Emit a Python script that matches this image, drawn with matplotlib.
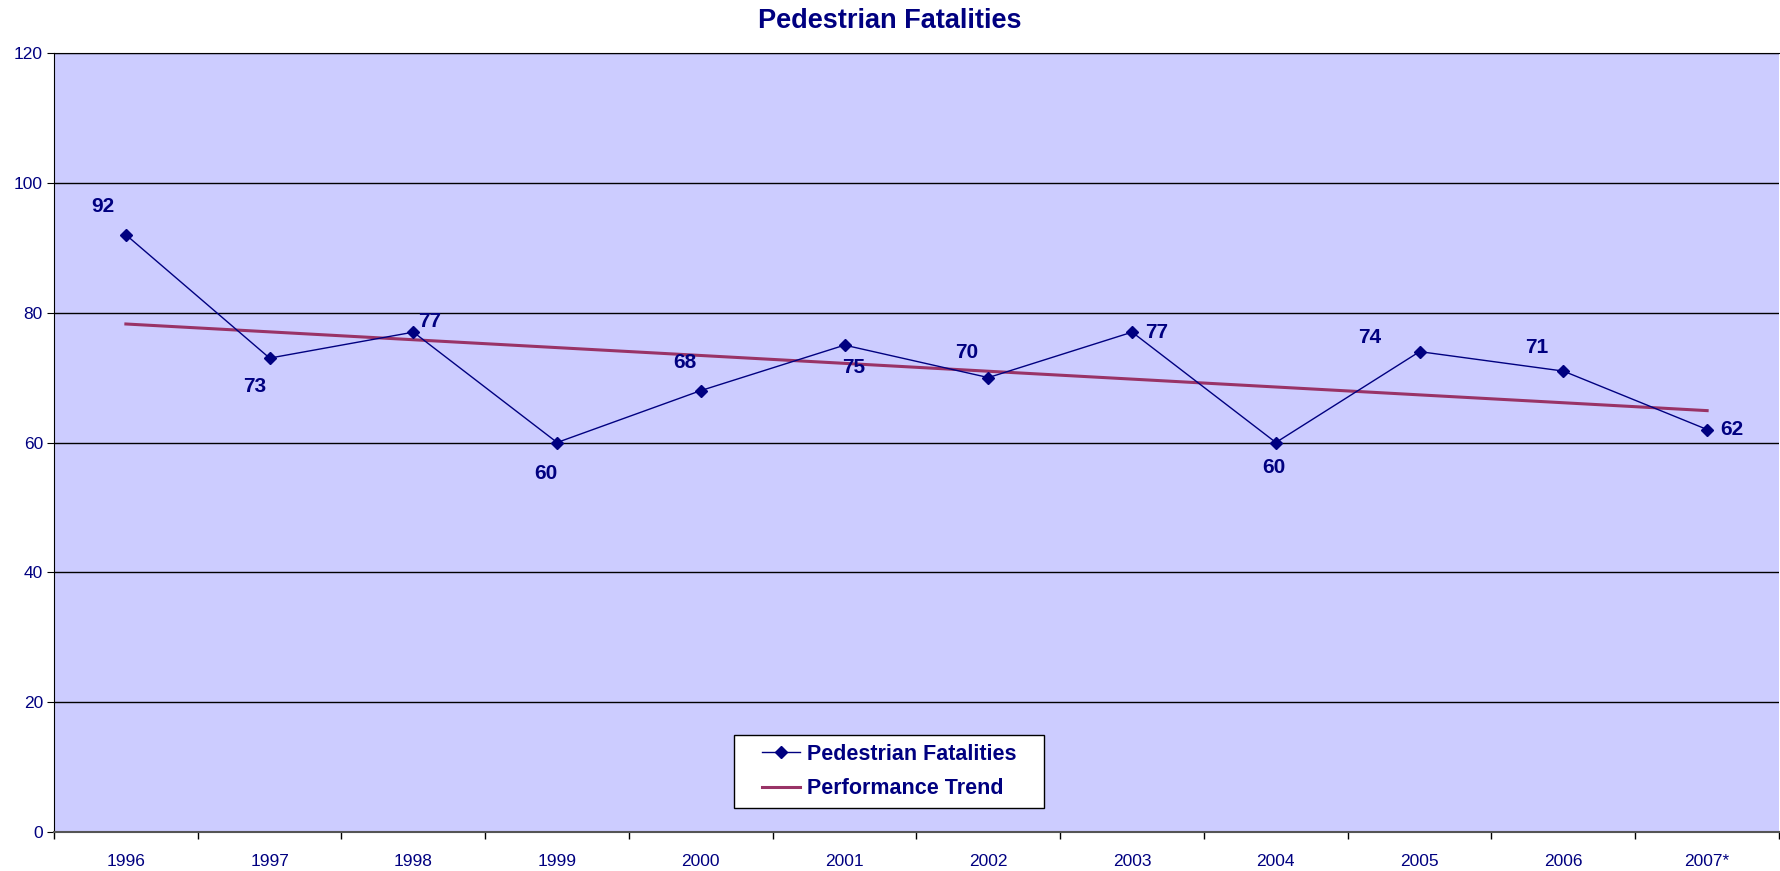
import matplotlib
matplotlib.use("Agg")
import matplotlib.pyplot as plt
from matplotlib.patches import Rectangle
import numpy as np

years = ["1996", "1997", "1998", "1999", "2000", "2001", "2002", "2003",
         "2004", "2005", "2006", "2007*"]
fatalities = [92, 73, 77, 60, 68, 75, 70, 77, 60, 74, 71, 62]
# label offsets in pixels (dx, dy) relative to each point
label_offsets = [(-23, 28), (-15, -28), (16, 11), (-11, -31), (-16, 28), (9, -22),
                 (-22, 25), (25, 0), (-2, -25), (-50, 14), (-27, 24), (25, 0)]

NAVY = "#000080"
TREND = "#993366"

plt.rcParams["font.family"] = ["Liberation Sans", "DejaVu Sans"]

fig = plt.figure(figsize=(17.81, 8.71), dpi=100)
ax = fig.add_axes([54 / 1781, 1 - 832 / 871, 1725 / 1781, 779 / 871])
ax.set_facecolor("#CCCCFF")

x = np.arange(len(years))
# linear performance trend fitted to the series
b1, b0 = np.polyfit(x, fatalities, 1)
ax.plot(x, b1 * x + b0, color=TREND, lw=2.2, label="Performance Trend", zorder=3)
ax.plot(x, fatalities, color=NAVY, lw=1, marker="D", ms=6.5, label="Pedestrian Fatalities", zorder=4)

for xi, yi, (dx, dy) in zip(x, fatalities, label_offsets):
    ax.annotate(str(yi), (xi, yi), xytext=(dx * 0.72, dy * 0.72), textcoords="offset points",
                ha="center", va="center", fontsize=15, fontweight="bold", color=NAVY)

ax.set_xlim(-0.5, len(years) - 0.5)
ax.set_ylim(0, 120)
ax.set_yticks(range(0, 121, 20))
ax.yaxis.grid(True, color="black", lw=1)
ax.set_axisbelow(True)
ax.set_xticks(x)
ax.set_xticklabels(years)
ax.set_xticks(np.arange(-0.5, len(years)), minor=True)
ax.tick_params(axis="x", which="major", length=0, pad=16, labelsize=12.5, labelcolor=NAVY)
ax.tick_params(axis="x", which="minor", length=5, color="black", width=1)
ax.tick_params(axis="y", length=5, labelsize=12.5, labelcolor=NAVY, pad=3)

ax.spines["right"].set_visible(False)
ax.spines["top"].set_color("black")
ax.spines["left"].set_color("black")
ax.spines["bottom"].set_color("#555555")
ax.spines["bottom"].set_linewidth(1.5)

# legend box drawn separately so the contents can sit centred inside it
bx, by, bw, bh = (734 - 54) / 1725, (832 - 808) / 779, 310 / 1725, 73 / 779
ax.add_patch(Rectangle((bx, by), bw, bh, transform=ax.transAxes, facecolor="white",
                       edgecolor="black", lw=1, zorder=5))
handles, labels = ax.get_legend_handles_labels()
leg = ax.legend(handles[::-1], labels[::-1], loc="center",
                bbox_to_anchor=(bx + bw / 2, by + bh / 2), frameon=False,
                prop={"size": 15.5, "weight": "bold"}, handlelength=1.8,
                handletextpad=0.3, borderaxespad=0, borderpad=0, labelspacing=0.63)
leg.set_zorder(6)
for t in leg.get_texts():
    t.set_color(NAVY)

fig.text(890 / 1781, 1 - 21 / 871, "Pedestrian Fatalities", ha="center", va="center",
         fontsize=19.5, fontweight="bold", color=NAVY)

fig.savefig("out.png", dpi=100)
